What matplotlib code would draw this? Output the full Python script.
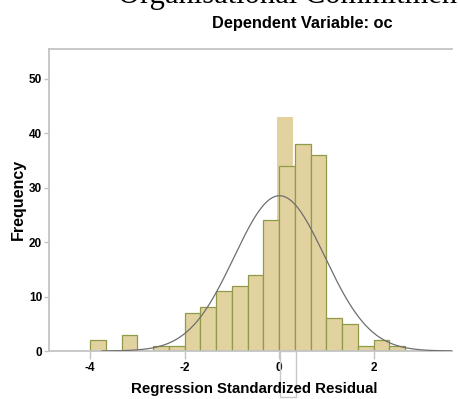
import numpy as np
import matplotlib
matplotlib.use("Agg")
import matplotlib.pyplot as plt
from matplotlib.patches import Rectangle

# histogram of regression standardized residuals (bin width 1/3, starting at -4)
bin_start = -4.0
bin_width = 1 / 3
counts = [2, 0, 3, 0, 1, 1, 7, 8, 11, 12, 14, 24, 34, 38, 36, 6, 5, 1, 2, 1]
# stray taller bar visible behind the 0..1/3 bin in the source image
overlay_left = [-0.04]
overlay_height = [43]

# normal curve parameters
resid_mean = 0.01
resid_sd = 0.96
n_obs = sum(counts)

xticks = [-4, -2, 0, 2]
yticks = [0, 10, 20, 30, 40, 50]

W, H = 458, 399
fig = plt.figure(figsize=(W / 100, H / 100), dpi=100)
ax = fig.add_axes([49 / W, 48 / H, (452 - 49) / W, (351 - 49) / H])

fill = "#e2d29f"
edge = "#8f9a4a"
grey = "#c4c4c4"

edges = bin_start + bin_width * np.arange(len(counts))
ax.bar(overlay_left, overlay_height, width=bin_width, align="edge",
       color=fill, edgecolor="none", zorder=1)
ax.bar(edges, counts, width=bin_width, align="edge", color=fill,
       edgecolor=edge, linewidth=0.9, zorder=2)

xs = np.linspace(-3.75, 3.66, 400)
pdf = np.exp(-0.5 * ((xs - resid_mean) / resid_sd) ** 2) / (resid_sd * np.sqrt(2 * np.pi))
ax.plot(xs, pdf * n_obs * bin_width, color="#6e6e6e", lw=0.9, zorder=3)

ax.set_xlim(-4.87, 3.66)
ax.set_ylim(0, 55.5)
ax.set_xticks(xticks)
ax.set_yticks(yticks)
ax.set_xticklabels([str(t) for t in xticks], fontsize=8.5, fontweight="bold",
                   family="Liberation Sans")
ax.set_yticklabels([str(t) for t in yticks], fontsize=8.5, fontweight="bold",
                   family="Liberation Sans")
ax.tick_params(axis="both", color=grey, length=3.5, width=1, pad=1.5)
ax.tick_params(axis="x", length=6, pad=2)
ax.spines["right"].set_visible(False)
for s in ["left", "top", "bottom"]:
    ax.spines[s].set_color(grey)
    ax.spines[s].set_linewidth(1.3)

fig.text(118 / W, 1 - 3.5 / H, "Organisational Commitment", family="Liberation Serif",
         fontsize=22, ha="left", va="baseline")
fig.text(302 / W, 1 - 28 / H, "Dependent Variable: oc", family="Liberation Sans",
         fontweight="bold", fontsize=11.8, ha="center", va="baseline")
fig.text(18 / W, 1 - 199 / H, "Frequency", family="Liberation Sans",
         fontweight="bold", fontsize=11.5, rotation=90, ha="center", va="center")
fig.text(254 / W, 1 - 393 / H, "Regression Standardized Residual",
         family="Liberation Sans", fontweight="bold", fontsize=10.8,
         ha="center", va="baseline")

# thin selection box under the x axis seen in the source
fig.patches.append(Rectangle((280 / W, 2 / H), 16 / W, (399 - 353) / H,
                             transform=fig.transFigure, fill=False,
                             edgecolor="#c8c8c8", lw=1))

fig.savefig("out.png", dpi=100)
